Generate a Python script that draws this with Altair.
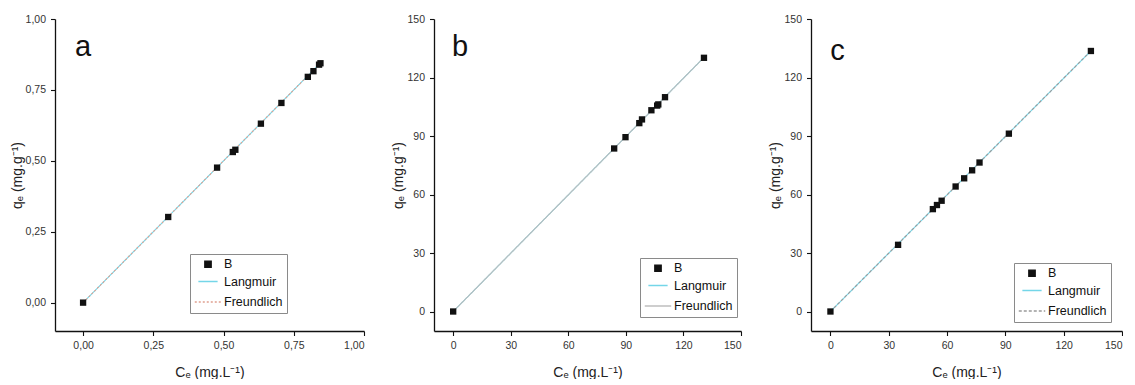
import altair as alt
import pandas as pd

# ---------------- data ----------------
series_names = ["B", "Langmuir", "Freundlich"]

a_ce = [0.0, 0.303, 0.477, 0.533, 0.542, 0.633, 0.706, 0.800, 0.820, 0.840, 0.845]
a_qe = [0.0, 0.302, 0.476, 0.531, 0.539, 0.631, 0.704, 0.796, 0.816, 0.839, 0.844]
a_fit_x = [0.0, 0.845]
a_fit_y = [0.0, 0.845]

b_ce = [0.0, 83.9, 89.8, 97.0, 98.4, 103.3, 106.3, 106.9, 110.4, 130.7]
b_qe = [0.0, 83.6, 89.4, 96.6, 98.5, 103.2, 105.6, 106.2, 109.9, 130.1]
b_fit_x = [0.0, 130.7]
b_fit_y = [0.0, 130.3]

c_ce = [0.0, 34.8, 52.7, 54.8, 57.2, 64.4, 68.8, 72.9, 76.7, 91.8, 134.0]
c_qe = [0.0, 34.2, 52.5, 54.6, 56.8, 64.1, 68.3, 72.4, 76.4, 91.2, 133.6]
c_fit_x = [0.0, 134.0]
c_fit_y = [0.0, 133.6]

panel_letters = ["a", "b", "c"]
letter_pos = [(0.0, 0.90), (3.6, 135.6), (3.6, 133.7)]

FONT = "Liberation Sans Narrow, Liberation Sans, Arial"
X_TITLE = "Cₑ (mg.L⁻¹)"
Y_TITLE = "qₑ (mg.g⁻¹)"


def make_panel(ce, qe, fit_x, fit_y, letter, lpos, domain, step, fmt,
               freund_color, freund_dash, width, legend_xy):
    minor = f"abs(datum.value/{step} - round(datum.value/{step})) > 0.001"
    label_expr = (f"{minor} ? '' : replace(format(datum.value, '{fmt}'), '.', ',')")
    vals = []
    v = 0.0
    while v <= domain[1] + 1e-9:
        vals.append(round(v, 6))
        v += step / 2
    tick_size = {"condition": {"test": minor, "value": 2.5}, "value": 4.5}

    def axis(title, tpad):
        return alt.Axis(
            title=title, values=vals, labelExpr=label_expr, labelOverlap=False,
            tickSize=tick_size, grid=False, domainColor="#111", domainWidth=1.3,
            tickColor="#111", tickWidth=1.1, labelFont=FONT, labelFontSize=10.5,
            labelColor="#333", titleFont=FONT, titleFontSize=14, titleColor="#222",
            titleFontWeight="normal", labelPadding=5, titlePadding=tpad,
        )

    xs = alt.Scale(domain=domain, nice=False, zero=False)
    ys = alt.Scale(domain=domain, nice=False, zero=False)

    color_scale = alt.Scale(domain=series_names,
                            range=["#111111", "#74d6e8", freund_color])
    shape_scale = alt.Scale(domain=series_names, range=["square", "stroke", "stroke"])
    size_scale = alt.Scale(domain=series_names, range=[40, 700, 700])
    dash_scale = alt.Scale(domain=series_names, range=[[1, 0], [1, 0], freund_dash])

    legend = alt.Legend(
        title=None, orient="none", legendX=legend_xy[0], legendY=legend_xy[1],
        strokeColor="#8a8a8a", fillColor="white", padding=4, labelFont=FONT,
        labelFontSize=12.5, labelColor="#111", symbolStrokeWidth=1.4,
        rowPadding=0, labelOffset=2, cornerRadius=0,
    )

    pts = pd.DataFrame({"ce": ce, "qe": qe, "series": "B"})
    fit = pd.concat([
        pd.DataFrame({"ce": fit_x, "qe": fit_y, "series": "Langmuir"}),
        pd.DataFrame({"ce": fit_x, "qe": fit_y, "series": "Freundlich"}),
    ])

    lines = alt.Chart(fit).mark_line(strokeWidth=1.1).encode(
        x=alt.X("ce:Q", scale=xs, axis=axis(X_TITLE, 14)),
        y=alt.Y("qe:Q", scale=ys, axis=axis(Y_TITLE, 1)),
        color=alt.Color("series:N", scale=color_scale, legend=legend),
        strokeDash=alt.StrokeDash("series:N", scale=dash_scale, legend=legend),
        order=alt.Order("series:N", sort="descending"),
    )
    points = alt.Chart(pts).mark_point(filled=True, opacity=1, strokeWidth=1).encode(
        x="ce:Q", y="qe:Q",
        color=alt.Color("series:N", scale=color_scale, legend=legend),
        shape=alt.Shape("series:N", scale=shape_scale, legend=legend),
        size=alt.Size("series:N", scale=size_scale, legend=legend),
    )
    lab = alt.Chart(pd.DataFrame({"x": [lpos[0]], "y": [lpos[1]], "t": [letter]})).mark_text(
        font=FONT, fontSize=29, color="#111", align="center", baseline="middle"
    ).encode(x="x:Q", y="y:Q", text="t:N")

    return alt.layer(lines, points, lab).properties(width=width, height=312)


pa = make_panel(a_ce, a_qe, a_fit_x, a_fit_y, panel_letters[0], letter_pos[0],
                [-0.1, 1.0], 0.25, ".2f", "#e0a090", [2, 2], 309, (135, 235))
pb = make_panel(b_ce, b_qe, b_fit_x, b_fit_y, panel_letters[1], letter_pos[1],
                [-10, 150], 30, "d", "#bdbdbd", [1, 0], 307, (206, 239))
pc = make_panel(c_ce, c_qe, c_fit_x, c_fit_y, panel_letters[2], letter_pos[2],
                [-10, 150], 30, "d", "#9a9a9a", [3, 2], 311, (203, 244))

chart = alt.hconcat(pa, pb, pc, spacing=70, bounds="flush").resolve_scale(
    color="independent", shape="independent", size="independent", strokeDash="independent"
).resolve_legend(
    color="independent", shape="independent", size="independent", strokeDash="independent"
).properties(
    padding={"left": 10, "top": 14, "right": 0, "bottom": 0}, background="white"
).configure_view(stroke=None)

chart.save("out.html", embed_options={"renderer": "svg", "actions": False})
